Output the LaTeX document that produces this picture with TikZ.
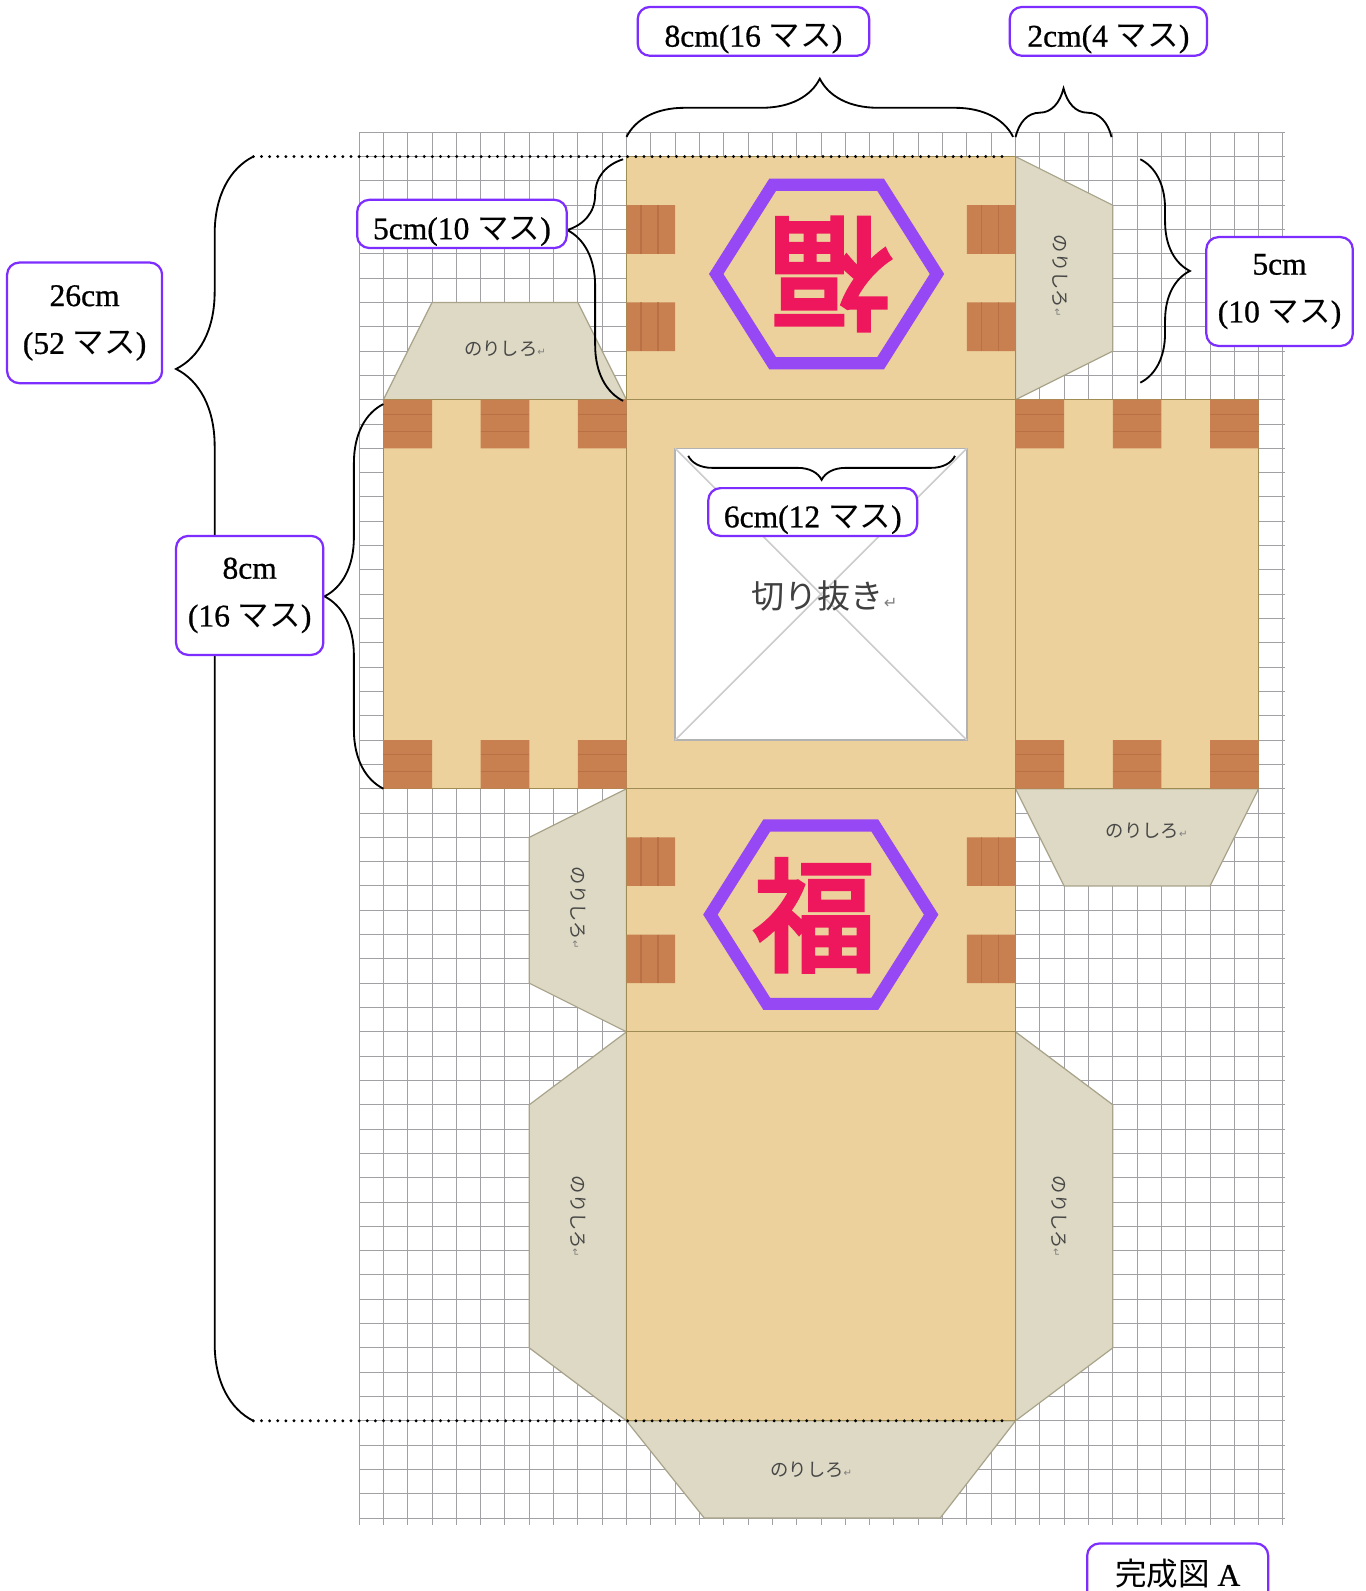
\documentclass[tikz,border=0pt]{standalone}
\usepackage{fontspec}
\setmainfont{Liberation Serif}
\newfontfamily\dimfont{Liberation Serif}[FakeBold=0.8]
\newfontfamily\jp{Noto Sans CJK JP}
\newfontfamily\jpfat{Noto Sans CJK JP}[FakeBold=4]
\newfontfamily\symfont{DejaVu Sans}
\usepackage{tikz}
\usetikzlibrary{calc, decorations.pathreplacing}

\definecolor{wood}{RGB}{236,209,156}
\definecolor{woodline}{RGB}{158,140,84}
\definecolor{plank}{RGB}{200,128,80}
\definecolor{plankgrain}{RGB}{176,102,62}
\definecolor{glue}{RGB}{221,217,196}
\definecolor{glueline}{RGB}{168,163,138}
\definecolor{hexpurple}{RGB}{150,72,245}
\definecolor{fukured}{RGB}{238,22,92}
\definecolor{boxpurple}{RGB}{125,45,255}
\definecolor{gridgray}{RGB}{160,160,165}

\newcommand\retmark[1]{{\symfont\fontsize{#1}{#1}\selectfont\textcolor{black!50}{↵}}}

\tikzset{
	gridline/.style = {gridgray, line width=0.5pt},
	face/.style = {fill=wood, draw=woodline, line width=0.6pt},
	plank/.style = {fill=plank},
	grain/.style = {plankgrain, line width=0.7pt, opacity=0.6},
	tab/.style = {fill=glue, draw=glueline, line width=0.6pt},
	tabtext/.style = {font=\jp\fontsize{9}{10}\selectfont, text=black!72},
	holetext/.style = {font=\jp\fontsize{16.25}{18}\selectfont, text=black!75},
	hexline/.style = {draw=hexpurple, line width=6pt, line join=miter},
	fuku/.style = {font=\jpfat\fontsize{60}{60}\selectfont, text=fukured},
	cutline/.style = {black, line width=1.6pt, dash pattern=on 0pt off 4pt, line cap=round},
	dimbrace/.style 2 args = {decorate, decoration={brace, amplitude=#1, aspect=#2}, line width=0.9pt},
	dimbox/.style = {draw=boxpurple, fill=white, line width=1.1pt, rounded corners=6pt, align=center, inner sep=0pt, font=\dimfont\fontsize{15.5}{23.5}\selectfont},
	oneline/.style = {text height=15pt, text depth=0pt},
}

\begin{document}
\begin{tikzpicture}[x=11.95pt, y=-11.95pt]
			\def\gridL{-11};
			\def\gridR{27};
			\def\gridT{-1};
			\def\gridB{56};

			\path[use as bounding box, fill=white] (-25.77,-6.44) rectangle (30.38,59.0);

			\begin{scope}[gridline]
				\foreach \gx in {\gridL,...,\gridR}
					\draw (\gx,\gridT) -- (\gx,56.3);
				\foreach \gy in {\gridT,...,\gridB}
					\draw (\gridL,\gy) -- (27.1,\gy);
			\end{scope}

			\begin{scope}
				\draw[tab] (-10,10) -- (-8,6) -- (-2,6) -- (0,10) -- cycle;
				\draw[tab] (16,0) -- (20,2) -- (20,8) -- (16,10) -- cycle;
				\draw[tab] (16,26) -- (26,26) -- (24,30) -- (18,30) -- cycle;
				\draw[tab] (0,26) -- (-4,28) -- (-4,34) -- (0,36) -- cycle;
				\draw[tab] (0,36) -- (-4,39) -- (-4,49) -- (0,52) -- cycle;
				\draw[tab] (16,36) -- (20,39) -- (20,49) -- (16,52) -- cycle;
				\draw[tab] (0,52) -- (16,52) -- (12.9,56) -- (3.2,56) -- cycle;
			\end{scope}

			\begin{scope}
				\node[tabtext] (glueWing) at (-5,7.9) {のりしろ\retmark{5}};
				\node[tabtext, rotate=-90] (glueLid) at (17.85,4.9) {のりしろ\retmark{5}};
				\node[tabtext] (glueSide) at (21.4,27.75) {のりしろ\retmark{5}};
				\node[tabtext, rotate=-90] (glueFront) at (-1.97,30.9) {のりしろ\retmark{5}};
				\node[tabtext, rotate=-90] (glueBaseL) at (-1.97,43.6) {のりしろ\retmark{5}};
				\node[tabtext, rotate=-90] (glueBaseR) at (17.8,43.6) {のりしろ\retmark{5}};
				\node[tabtext] (glueBase) at (7.6,54.0) {のりしろ\retmark{5}};
			\end{scope}

			\begin{scope}
				\draw[face] (0,0) rectangle (16,10);
				\draw[face] (-10,10) rectangle (0,26);
				\draw[face] (0,10) rectangle (16,26);
				\draw[face] (16,10) rectangle (26,26);
				\draw[face] (0,26) rectangle (16,36);
				\draw[face] (0,36) rectangle (16,52);
			\end{scope}

			\foreach \bx in {-10,-6,-2,16,20,24} {
				\fill[plank] (\bx,10) rectangle ++(2,2) (\bx,24) rectangle ++(2,2);
				\draw[grain] (\bx,10.6) -- ++(2,0) (\bx,11.3) -- ++(2,0) (\bx,24.6) -- ++(2,0) (\bx,25.3) -- ++(2,0);
			}
			\foreach \by in {2,6,28,32} {
				\fill[plank] (0,\by) rectangle ++(2,2) (14,\by) rectangle ++(2,2);
				\draw[grain] (0.6,\by) -- ++(0,2) (1.3,\by) -- ++(0,2) (14.6,\by) -- ++(0,2) (15.3,\by) -- ++(0,2);
			}

			\foreach \hx/\hy in {8.23/4.83, 7.99/31.18}
				\draw[hexline] (\hx,\hy) ++(-4.54,0) -- ++(2.32,-3.67) -- ++(4.44,0) -- ++(2.32,3.67) -- ++(-2.32,3.67) -- ++(-4.44,0) -- cycle;

			\node[fuku, rotate=180] (fukuLid) at (8.4,4.83) {福};
			\node[fuku] (fukuFront) at (7.74,31.21) {福};

			\begin{scope}
				\draw[fill=white, draw=black!30, line width=0.8pt] (2,12) rectangle (14,24);
				\draw[black!20, line width=0.8pt] (2,12) -- (14,24) (14,12) -- (2,24);
				\node[holetext] (hole) at (8.15,18.08) {切り抜き\retmark{8}};
			\end{scope}

			\coordinate (cutTopL) at (-15.35,0);
			\coordinate (cutTopR) at (15.45,0);
			\coordinate (cutBotL) at (-15.35,52);
			\coordinate (cutBotR) at (15.45,52);
			\coordinate (widthL) at (0,-0.81);
			\coordinate (widthR) at (15.9,-0.81);
			\coordinate (tabL) at (16,-0.8);
			\coordinate (tabR) at (19.95,-0.8);
			\coordinate (lidT) at (-0.14,0.11);
			\coordinate (lidB) at (-0.14,10.05);
			\coordinate (wingT) at (-10,10.18);
			\coordinate (wingB) at (-10,26);
			\coordinate (sideT) at (21.13,0.11);
			\coordinate (sideB) at (21.13,9.3);
			\coordinate (holeL) at (2.54,12.31);
			\coordinate (holeR) at (13.51,12.31);

			\draw[cutline] (cutTopL) -- (cutTopR);
			\draw[cutline] (cutBotL) -- (cutBotR);

			\begin{scope}
				\draw[dimbrace={28.6pt}{0.5}] (widthL) -- (widthR);
				\draw[dimbrace={24pt}{0.5}] (tabL) -- (tabR);
				\draw[dimbrace={27.5pt}{0.707}] (lidB) -- (lidT);
				\draw[dimbrace={38pt}{0.832}] (cutBotL) -- (cutTopL);
				\draw[dimbrace={29pt}{0.5}] (wingB) -- (wingT);
				\draw[dimbrace={24.4pt}{0.5}] (sideT) -- (sideB);
				\draw[dimbrace={11.8pt}{0.5}] (holeR) -- (holeL);
			\end{scope}

			\begin{scope}
				\node[dimbox, oneline, minimum width=113.8pt, minimum height=24pt] (lblWidth) at (5.22,-5.15) {8cm(16 {\jp マス})};
				\node[dimbox, oneline, minimum width=97pt, minimum height=24pt] (lblTab) at (19.82,-5.15) {2cm(4 {\jp マス})};
				\node[dimbox, oneline, minimum width=103pt, minimum height=23.7pt] (lblLid) at (-6.77,2.77) {5cm(10 {\jp マス})};
				\node[dimbox, minimum width=76.2pt, minimum height=59.3pt] (lblTotal) at (-22.29,6.84) {26cm\\(52 {\jp マス})};
				\node[dimbox, minimum width=72.4pt, minimum height=58.5pt] (lblWing) at (-15.5,18.05) {8cm\\(16 {\jp マス})};
				\node[dimbox, minimum width=72pt, minimum height=53.5pt] (lblSide) at (26.86,5.55) {5cm\\(10 {\jp マス})};
				\node[dimbox, oneline, minimum width=102.7pt, minimum height=23.5pt] (lblHole) at (7.66,14.62) {6cm(12 {\jp マス})};
				\node[dimbox, minimum width=89pt, minimum height=30pt] (lblDone) at (22.67,58.3) {{\jp 完成図} A};
			\end{scope}
		\end{tikzpicture}
\end{document}
